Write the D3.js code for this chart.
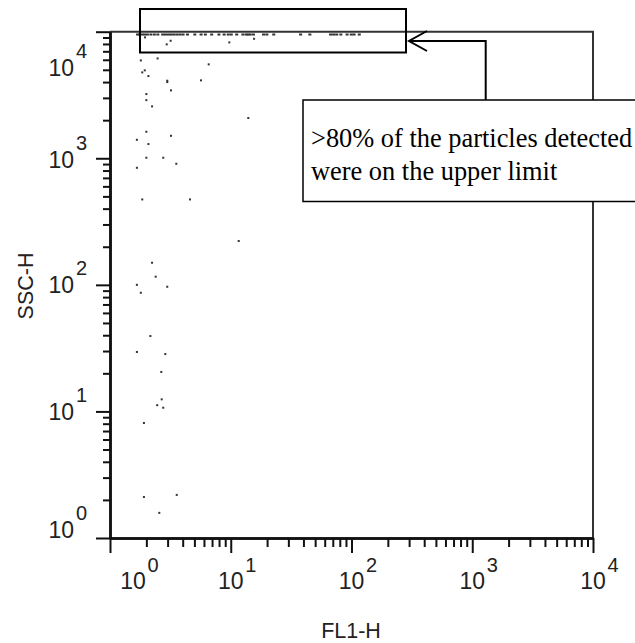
<!DOCTYPE html>
<html>
<head>
<meta charset="utf-8">
<script src="https://d3js.org/d3.v7.min.js"></script>
<style>
  body { margin: 0; background: #fff; }
  svg { display: block; }
</style>
</head>
<body>
<div id="chart"></div>
<script>
// events piled up on the SSC upper limit
const topFL1 = [1.69, 1.76, 1.85, 1.94, 2.04, 2.18, 2.33, 2.49, 2.73, 2.88, 3.05, 3.22, 3.40, 3.60,
  3.81, 4.03, 4.38, 5.04, 5.68, 6.16, 6.95, 7.98, 8.81, 9.53, 10.1, 11.2, 12.6, 13.4, 13.9,
  14.5, 15.4, 18.7, 19.9, 22.7, 37.9, 45.2, 67.1, 71.1, 75.4, 81.6, 91.9, 99.5, 105, 116];
const topSSC = 9500;

// remaining events (FL1-H, SSC-H)
const fl1 = [1.95, 2.95, 3.18, 9.73, 15.6,
  1.80, 2.48, 6.57, 1.85, 1.94, 2.08, 2.98, 2.98, 5.67, 3.20, 2.00, 2.00, 2.23, 13.97,
  2.00, 1.67, 3.20, 2.08, 2.00, 2.76, 1.67, 3.54, 1.85, 4.60, 11.64, 2.23, 2.39, 1.67,
  2.98, 1.80, 2.16, 1.67, 2.87, 2.66, 2.68, 2.46, 2.76, 1.91, 1.91, 3.57, 2.56];
const ssc = [9020, 7940, 8480, 8230, 8790,
  5930, 6150, 5520, 4770, 4950, 4460, 4100, 4000, 4125, 3440, 3215, 2880, 2570, 2080,
  1620, 1400, 1505, 1295, 1010, 1010, 841, 905, 473, 473, 222, 149.5, 116, 100,
  96.6, 86.6, 39.4, 29.5, 28.4, 20.5, 12.46, 11.2, 10.7, 8.1, 2.11, 2.19, 1.58];

const majorTicks = [1, 10, 100, 1000, 10000];
const tickExponents = ["0", "1", "2", "3", "4"];
const minorTicks = [];
[1, 10, 100, 1000].forEach(function (d) {
  for (let k = 2; k <= 9; k++) minorTicks.push(d * k);
});

const width = 635, height = 643;
const svg = d3.select("#chart").append("svg")
  .attr("width", width)
  .attr("height", height);

const x = d3.scaleLog().domain([1, 10000]).range([110, 593]);
const y = d3.scaleLog().domain([1, 10000]).range([538, 31.7]);

const sans = "'Liberation Sans', Arial, sans-serif";

// frame (top and right)
svg.append("path")
  .attr("d", `M${x(1)},${y(10000)}H${x(10000)}V${y(1)}`)
  .attr("fill", "none")
  .attr("stroke", "#333")
  .attr("stroke-width", 2);

// axes
function styleAxis(g) {
  g.select(".domain").attr("stroke", "#111").attr("stroke-width", 2.5);
  g.selectAll(".tick line").attr("stroke", "#111").attr("stroke-width", 2);
  g.selectAll(".tick text").remove();
}

svg.append("g")
  .attr("transform", `translate(0,${y(1)})`)
  .call(d3.axisBottom(x).tickValues(majorTicks).tickSize(15).tickSizeOuter(0).tickFormat(""))
  .call(styleAxis);
svg.append("g")
  .attr("transform", `translate(0,${y(1)})`)
  .call(d3.axisBottom(x).tickValues(minorTicks).tickSize(9).tickSizeOuter(0).tickFormat(""))
  .call(styleAxis);

svg.append("g")
  .attr("transform", `translate(${x(1)},0)`)
  .call(d3.axisLeft(y).tickValues(majorTicks).tickSize(14).tickSizeOuter(0).tickFormat(""))
  .call(styleAxis);
svg.append("g")
  .attr("transform", `translate(${x(1)},0)`)
  .call(d3.axisLeft(y).tickValues(minorTicks).tickSize(7).tickSizeOuter(0).tickFormat(""))
  .call(styleAxis);

// tick labels as 10 with a superscript
const xShift = [23, 0, 0, 0, 0];
majorTicks.forEach(function (v, i) {
  const cx = x(v) + xShift[i];
  svg.append("text")
    .attr("x", cx).attr("y", 589)
    .attr("text-anchor", "middle")
    .attr("font-family", sans).attr("font-size", 23).attr("fill", "#222")
    .text("10");
  svg.append("text")
    .attr("x", cx + 14.5).attr("y", 572)
    .attr("font-family", sans).attr("font-size", 20).attr("fill", "#222")
    .text(tickExponents[i]);
});

const yShift = [0.3, 8.5, 8.5, 9.5, 44];
majorTicks.forEach(function (v, i) {
  const by = y(v) + yShift[i];
  svg.append("text")
    .attr("x", 74).attr("y", by)
    .attr("text-anchor", "end")
    .attr("font-family", sans).attr("font-size", 23).attr("fill", "#222")
    .text("10");
  svg.append("text")
    .attr("x", 76).attr("y", by - 18)
    .attr("font-family", sans).attr("font-size", 20).attr("fill", "#222")
    .text(tickExponents[i]);
});

// axis titles
svg.append("text")
  .attr("x", 351).attr("y", 638)
  .attr("text-anchor", "middle")
  .attr("font-family", sans).attr("font-size", 21.5).attr("fill", "#222")
  .text("FL1-H");
svg.append("text")
  .attr("transform", "translate(33,286) rotate(-90)")
  .attr("text-anchor", "middle")
  .attr("font-family", sans).attr("font-size", 21.5).attr("fill", "#222")
  .text("SSC-H");

// events
const dots = svg.append("g").attr("fill", "#333");
dots.selectAll("rect.top")
  .data(topFL1)
  .join("rect")
  .attr("class", "top")
  .attr("x", d => x(d) - 1.5)
  .attr("y", y(topSSC) - 1)
  .attr("width", 3)
  .attr("height", 2);
dots.selectAll("rect.ev")
  .data(fl1.map((d, i) => [d, ssc[i]]))
  .join("rect")
  .attr("class", "ev")
  .attr("x", d => x(d[0]) - 1)
  .attr("y", d => y(d[1]) - 1)
  .attr("width", 2)
  .attr("height", 2);

// annotation: box round the upper limit, arrow and callout
svg.append("rect")
  .attr("x", 140).attr("y", 9)
  .attr("width", 266).attr("height", 43.5)
  .attr("fill", "none")
  .attr("stroke", "#000")
  .attr("stroke-width", 2);

svg.append("path")
  .attr("d", "M485.7,100V41H409")
  .attr("fill", "none")
  .attr("stroke", "#000")
  .attr("stroke-width", 2);
svg.append("path")
  .attr("d", "M427,31L409,41L427,51")
  .attr("fill", "none")
  .attr("stroke", "#000")
  .attr("stroke-width", 2);

svg.append("rect")
  .attr("x", 303).attr("y", 100)
  .attr("width", 345).attr("height", 101.5)
  .attr("fill", "#fff")
  .attr("stroke", "#000")
  .attr("stroke-width", 1.5);

const note = svg.append("text")
  .attr("font-family", "'Liberation Serif', 'Times New Roman', serif")
  .attr("font-size", 26.4)
  .attr("fill", "#000");
note.append("tspan").attr("x", 311).attr("y", 147).text(">80% of the particles detected");
note.append("tspan").attr("x", 311).attr("y", 180).text("were on the upper limit");
</script>
</body>
</html>
